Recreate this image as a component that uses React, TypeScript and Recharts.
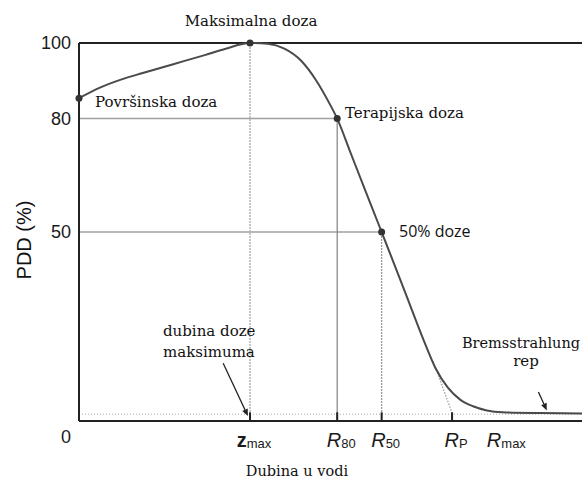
import React from 'react';
import { LineChart, Line, XAxis, YAxis, ReferenceLine, ReferenceDot } from 'recharts';

// depth (arbitrary units) and PDD values
const depth = [0, 0.5, 1.0, 1.5, 2.0, 2.5, 3.0, 3.5, 4.08, 4.5, 4.9, 5.3, 5.67, 5.99, 6.16, 6.47, 6.78, 7.22, 7.58, 7.9, 8.2, 8.5, 8.8, 9.1, 9.4, 9.73, 10.1, 11.0, 12];
const pdd = [85.4, 88.2, 90.3, 92.0, 93.6, 95.2, 96.8, 98.5, 100, 99.8, 98.5, 95.3, 89.9, 83.7, 80, 71.2, 62.4, 50, 39.8, 30.6, 22, 14.1, 8.8, 5.6, 3.9, 2.8, 2.3, 2.1, 2.0];

const yTicks = [0, 50, 80, 100];
const xTickPos = [4.08, 6.16, 7.22, 8.9, 10.1];
const xTickMain = ['z', 'R', 'R', 'R', 'R'];
const xTickSub = ['max', '80', '50', 'P', 'max'];

const markDepth = [0, 4.08, 6.16, 7.22];
const markPdd = [85.4, 100, 80, 50];

const zMax = 4.08;
const r80 = 6.16;
const r50 = 7.22;
const rP = 8.9;
const tailLevel = 1.8;

const curveData = depth.map((d, i) => ({ depth: d, pdd: pdd[i] }));

const serif = '"DejaVu Serif", serif';
const sans = '"Liberation Sans", Arial, sans-serif';

const XTick = (props: any) => {
  const { x, y, index } = props;
  const isZ = xTickMain[index] === 'z';
  return (
    <text x={x + 4} y={y + 18} textAnchor="middle" fontFamily={sans} fill="#1a1a1a">
      <tspan fontSize={20} fontWeight={isZ ? 'bold' : 'normal'} fontStyle={isZ ? 'normal' : 'italic'}>
        {xTickMain[index]}
      </tspan>
      <tspan fontSize={13} dy={1}>{xTickSub[index]}</tspan>
    </text>
  );
};

const YTick = (props: any) => {
  const { x, y, payload } = props;
  const shift = payload.value === 0 ? 15.5 : 0;
  return (
    <text x={x} y={y + shift} dy="0.355em" textAnchor="end" fontFamily={sans} fontSize={18} fill="#1a1a1a">
      {payload.value}
    </text>
  );
};

const Arrow = (props: any) => {
  const { x1, y1, x2, y2 } = props;
  const a = Math.atan2(y2 - y1, x2 - x1);
  const len = 7;
  const w = 3;
  const bx = x2 - len * Math.cos(a);
  const by = y2 - len * Math.sin(a);
  const pts = `${x2},${y2} ${bx + w * Math.sin(a)},${by - w * Math.cos(a)} ${bx - w * Math.sin(a)},${by + w * Math.cos(a)}`;
  return (
    <g>
      <line x1={x1} y1={y1} x2={bx} y2={by} stroke="#222" strokeWidth={1.3} />
      <polygon points={pts} fill="#222" />
    </g>
  );
};

export default function App() {
  return (
    <div style={{ position: 'absolute', left: 0, top: 0, width: 582, height: 480, background: '#fff' }}>
      <LineChart width={582} height={480} data={curveData} margin={{ top: 43, right: 0, bottom: 0, left: 0 }}>
        <XAxis
          dataKey="depth"
          type="number"
          domain={[0, 12]}
          ticks={xTickPos}
          tick={<XTick />}
          tickLine={false}
          height={59}
          axisLine={{ stroke: '#222', strokeWidth: 2 }}
          interval={0}
        />
        <YAxis
          type="number"
          domain={[0, 100]}
          ticks={yTicks}
          tick={<YTick />}
          tickLine={false}
          tickMargin={2}
          width={79}
          axisLine={{ stroke: '#222', strokeWidth: 2 }}
          interval={0}
        />
        <ReferenceLine y={100} stroke="#222" strokeWidth={2} />
        <ReferenceLine segment={[{ x: 0, y: tailLevel }, { x: 12, y: tailLevel }]} stroke="#aaa" strokeDasharray="1 2" />
        <ReferenceLine segment={[{ x: 0, y: 80 }, { x: r80, y: 80 }]} stroke="#a0a0a0" strokeWidth={1.5} />
        <ReferenceLine segment={[{ x: 0, y: 50 }, { x: r50, y: 50 }]} stroke="#a0a0a0" strokeWidth={1.5} />
        <ReferenceLine segment={[{ x: zMax, y: 0 }, { x: zMax, y: 100 }]} stroke="#b5b5b5" strokeWidth={1.5} strokeDasharray="2 1" />
        <ReferenceLine segment={[{ x: r80, y: 0 }, { x: r80, y: 80 }]} stroke="#8a8a8a" strokeWidth={1.3} />
        <ReferenceLine segment={[{ x: r50, y: 0 }, { x: r50, y: 50 }]} stroke="#9a9a9a" strokeWidth={1.3} strokeDasharray="2 1" />
        <ReferenceLine segment={[{ x: 8.45, y: 15.8 }, { x: rP, y: 2.1 }]} stroke="#999" strokeWidth={1.2} strokeDasharray="1.5 1.5" />
        {[zMax, r80, r50, rP].map((p) => (
          <ReferenceLine key={p} segment={[{ x: p, y: 0 }, { x: p, y: 2.3 }]} stroke="#222" strokeWidth={2} />
        ))}
        <ReferenceLine segment={[{ x: 3.44, y: 15.3 }, { x: 4.03, y: 1.3 }]} shape={<Arrow />} />
        <ReferenceLine segment={[{ x: 10.96, y: 7.7 }, { x: 11.16, y: 2.8 }]} shape={<Arrow />} />
        <Line
          type="monotone"
          dataKey="pdd"
          stroke="#4a4a4a"
          strokeWidth={2}
          dot={false}
          activeDot={false}
          isAnimationActive={false}
        />
        {markDepth.map((d, i) => (
          <ReferenceDot key={d} x={d} y={markPdd[i]} r={3.5} fill="#333" stroke="none" />
        ))}
      </LineChart>
      <svg width={582} height={480} style={{ position: 'absolute', left: 0, top: 0, pointerEvents: 'none' }}>
        <g fontFamily={serif} fontSize={15} fill="#111">
          <text x={251} y={26} textAnchor="middle">Maksimalna doza</text>
          <text x={95} y={107}>Površinska doza</text>
          <text x={345} y={118}>Terapijska doza</text>
          <text x={163} y={336}>dubina doze</text>
          <text x={163} y={357}>maksimuma</text>
          <text x={521} y={348} textAnchor="middle" fontSize={14.5}>Bremsstrahlung</text>
          <text x={526} y={366} textAnchor="middle">rep</text>
          <text x={297} y={476} textAnchor="middle" fontSize={14.5}>Dubina u vodi</text>
        </g>
        <text x={399} y={237} fontFamily='"Open Sans", sans-serif' fontSize={16} fill="#111">50% doze</text>
        <text x={31} y={240} transform="rotate(-90, 31, 240)" textAnchor="middle" fontFamily={sans} fontSize={20} fill="#111">
          PDD (%)
        </text>
      </svg>
    </div>
  );
}
